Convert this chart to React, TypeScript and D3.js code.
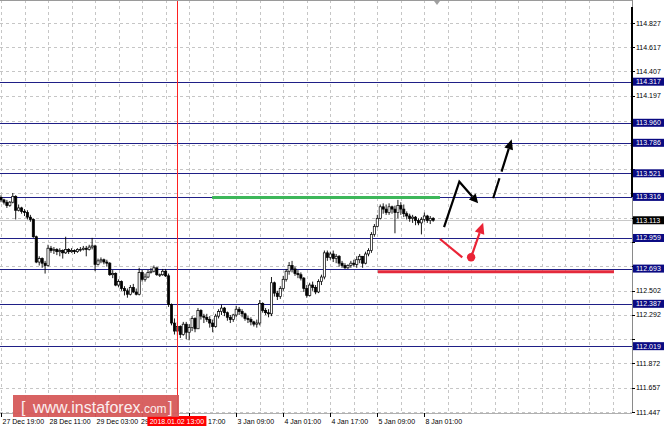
import React from 'react';
import * as d3 from 'd3';

const W = 664;
const H = 431;

// ---- candle data (H1 bars, open = previous close) ----
const firstOpen = 113.31;
const closes = [
  113.29, 113.27, 113.24, 113.27, 113.32, 113.20, 113.22, 113.19, 113.18, 113.14,
  113.12, 112.97, 112.75, 112.78, 112.74, 112.72, 112.87, 112.85, 112.86, 112.84,
  112.85, 112.83, 112.86, 112.84, 112.85, 112.84, 112.86, 112.86, 112.87, 112.86,
  112.88, 112.89, 112.73, 112.76, 112.77, 112.75, 112.74, 112.64, 112.65, 112.55,
  112.58, 112.52, 112.50, 112.47, 112.53, 112.49, 112.47, 112.66, 112.60, 112.62,
  112.66, 112.67, 112.70, 112.64, 112.64, 112.67, 112.63, 112.38, 112.22, 112.15,
  112.19, 112.12, 112.21, 112.14, 112.18, 112.26, 112.17, 112.33, 112.28, 112.27,
  112.25, 112.22, 112.19, 112.28, 112.32, 112.35, 112.31, 112.27, 112.25, 112.29,
  112.34, 112.32, 112.30, 112.26, 112.25, 112.23, 112.21, 112.22, 112.39, 112.33,
  112.31, 112.30, 112.57, 112.48, 112.45, 112.52, 112.60, 112.67, 112.72, 112.69,
  112.65, 112.64, 112.61, 112.52, 112.46, 112.55, 112.53, 112.49, 112.58, 112.62,
  112.83, 112.79, 112.82, 112.78, 112.80, 112.74, 112.72, 112.70, 112.72, 112.74,
  112.73, 112.77, 112.80, 112.74, 112.82, 112.85, 112.99, 113.06, 113.13, 113.23,
  113.21, 113.18, 113.23, 113.21, 113.18, 113.24, 113.21, 113.17, 113.15, 113.13,
  113.14, 113.11, 113.09, 113.12, 113.15, 113.11, 113.13, 113.113,
];
const highs = [
  113.33, 113.30, 113.29, 113.28, 113.35, 113.33, 113.25, 113.23, 113.21, 113.20,
  113.16, 113.13, 112.98, 112.80, 112.79, 112.76, 112.90, 112.89, 112.88, 112.87,
  112.87, 112.86, 112.97, 112.87, 112.87, 112.86, 112.87, 112.88, 112.89, 112.89,
  112.90, 112.96, 112.90, 112.78, 112.79, 112.78, 112.77, 112.75, 112.68, 112.66,
  112.60, 112.59, 112.54, 112.52, 112.55, 112.56, 112.52, 112.70, 112.68, 112.65,
  112.68, 112.70, 112.72, 112.65, 112.65, 112.69, 112.69, 112.65, 112.39, 112.26,
  112.23, 112.20, 112.23, 112.23, 112.21, 112.28, 112.27, 112.35, 112.34, 112.30,
  112.30, 112.28, 112.25, 112.30, 112.34, 112.38, 112.36, 112.32, 112.29, 112.30,
  112.37, 112.36, 112.34, 112.31, 112.28, 112.27, 112.24, 112.25, 112.42, 112.40,
  112.35, 112.34, 112.62, 112.58, 112.50, 112.54, 112.63, 112.69, 112.75, 112.76,
  112.71, 112.68, 112.66, 112.62, 112.55, 112.57, 112.58, 112.55, 112.60, 112.64,
  112.85, 112.85, 112.84, 112.85, 112.82, 112.81, 112.76, 112.74, 112.73, 112.76,
  112.77, 112.80, 112.82, 112.80, 112.84, 112.87, 113.01, 113.08, 113.16, 113.25,
  113.26, 113.25, 113.26, 113.24, 113.24, 113.29, 113.27, 113.25, 113.19, 113.17,
  113.16, 113.15, 113.13, 113.14, 113.18, 113.16, 113.15, 113.14,
];
const lows = [
  113.27, 113.25, 113.22, 113.23, 113.26, 113.12, 113.19, 113.17, 113.15, 113.12,
  113.10, 112.96, 112.74, 112.72, 112.70, 112.65, 112.71, 112.83, 112.82, 112.81,
  112.80, 112.78, 112.82, 112.82, 112.83, 112.82, 112.83, 112.84, 112.85, 112.80,
  112.85, 112.86, 112.67, 112.72, 112.74, 112.73, 112.71, 112.63, 112.61, 112.54,
  112.53, 112.50, 112.46, 112.44, 112.46, 112.48, 112.46, 112.46, 112.58, 112.58,
  112.61, 112.65, 112.66, 112.63, 112.62, 112.63, 112.62, 112.36, 112.20, 112.12,
  112.11, 112.09, 112.11, 112.08, 112.07, 112.15, 112.14, 112.17, 112.25, 112.22,
  112.23, 112.18, 112.14, 112.18, 112.26, 112.29, 112.28, 112.24, 112.22, 112.23,
  112.27, 112.29, 112.27, 112.24, 112.22, 112.20, 112.19, 112.18, 112.20, 112.31,
  112.29, 112.27, 112.28, 112.45, 112.42, 112.43, 112.50, 112.58, 112.64, 112.66,
  112.63, 112.61, 112.59, 112.49, 112.44, 112.45, 112.50, 112.47, 112.48, 112.55,
  112.60, 112.76, 112.77, 112.75, 112.74, 112.71, 112.70, 112.69, 112.69, 112.70,
  112.71, 112.70, 112.74, 112.70, 112.73, 112.80, 112.83, 112.97, 113.05, 113.12,
  113.17, 113.16, 113.16, 113.17, 113.00, 113.13, 113.16, 113.14, 113.12, 113.10,
  113.09, 113.07, 113.07, 112.99, 113.10, 113.09, 113.08, 113.10,
];

// ---- axes ----
// labels partly hidden by the crosshair date box show only their visible part
const timeLabels = [
  '27 Dec 19:00', '28 Dec 11:00', '29 Dec 03:00', '29', '17:00',
  '3 Jan 09:00', '4 Jan 01:00', '4 Jan 17:00', '5 Jan 09:00', '8 Jan 01:00',
];
const timeLabelShift = [0, 0, 0, -2.5, 17.5, 0, 0, 0, 0, 0];
const barsPerLabel = 16;
const barsPerGrid = 8;
const priceTicks = [
  111.447, 111.657, 111.872, 112.082, 112.292, 112.502, 112.712, 112.922, 113.137,
  113.347, 113.562, 113.767, 113.977, 114.197, 114.407, 114.617, 114.827,
];

// ---- levels & annotations ----
const levels = [114.317, 113.960, 113.786, 113.521, 113.316, 112.959, 112.693, 112.387, 112.019];
const currentPrice = 113.113;
const crosshairIndex = 60;
const crosshairLabel = '2018.01.02 13:00';
const resistance = { price: 113.31, from: 71.8, to: 149.3 };
const support = { price: 112.665, from: 128.2, to: 208.5 };
const blackArrow: [number, number][] = [[150.7, 113.054], [155.9, 113.448], [162.3, 113.26]];
const dashedArrow: [number, number][] = [[167.4, 113.304], [173.7, 113.816]];
const redStroke: [number, number][] = [[149.3, 112.95], [156.9, 112.791]];
const redDot: [number, number] = [159.9, 112.791];
const redArrow: [number, number][] = [[159.9, 112.791], [164.0, 113.092]];

const FONT = "'Liberation Sans', Arial, sans-serif";

export default function App() {
  const x = d3.scaleLinear().domain([0, 208]).range([1, 612.52]);
  const y = d3.scaleLinear().domain([111.447, 114.827]).range([412, 23]);
  const plotRight = 632;
  const plotBottom = 413;
  const opens = [firstOpen, ...closes.slice(0, -1)];

  const gridIdx = d3.range(0, 209, barsPerGrid);
  const line = d3.line<[number, number]>().x((d) => d[0]).y((d) => d[1]);

  const boxedPrices = [...levels, currentPrice];
  const visibleTicks = priceTicks.filter(
    (p) => !boxedPrices.some((b) => Math.abs(y(b) - y(p)) < 8.5)
  );

  const arrowEls = (
    pts: [number, number][],
    color: string,
    width: number,
    headLen: number,
    headW: number,
    dash?: string,
    key?: string
  ) => {
    const px = pts.map((p) => [x(p[0]), y(p[1])] as [number, number]);
    const tip = px[px.length - 1];
    const prev = px[px.length - 2];
    const dx = tip[0] - prev[0];
    const dy = tip[1] - prev[1];
    const len = Math.hypot(dx, dy);
    const ux = dx / len;
    const uy = dy / len;
    const base: [number, number] = [tip[0] - ux * headLen, tip[1] - uy * headLen];
    const shaft = [...px.slice(0, -1), base];
    const nx = -uy;
    const ny = ux;
    const head = [
      tip,
      [base[0] + nx * headW, base[1] + ny * headW],
      [base[0] - nx * headW, base[1] - ny * headW],
    ];
    return (
      <g key={key}>
        <path d={line(shaft) || ''} fill="none" stroke={color} strokeWidth={width} strokeDasharray={dash} strokeLinejoin="miter" />
        <polygon points={head.map((p) => p.join(',')).join(' ')} fill={color} />
      </g>
    );
  };

  return (
    <div style={{ position: 'absolute', left: 0, top: 0 }}>
      <svg width={W} height={H} style={{ display: 'block', background: '#fff' }}>
        {/* grid */}
        {priceTicks.map((p) => (
          <line key={'hg' + p} x1={0} x2={plotRight} y1={Math.round(y(p)) + 0.5} y2={Math.round(y(p)) + 0.5}
            stroke="#c6c6c6" strokeDasharray="3 3" />
        ))}
        {gridIdx.map((i) => (
          <line key={'vg' + i} x1={Math.round(x(i)) + 0.5} x2={Math.round(x(i)) + 0.5} y1={0} y2={plotBottom}
            stroke="#c6c6c6" strokeDasharray="3 3" />
        ))}

        {/* level lines */}
        {levels.map((p) => (
          <line key={'lv' + p} x1={0} x2={plotRight} y1={Math.round(y(p)) + 0.5} y2={Math.round(y(p)) + 0.5}
            stroke="#1f1f86" strokeWidth={1.1} />
        ))}
        <line x1={0} x2={plotRight} y1={Math.round(y(currentPrice)) + 0.5} y2={Math.round(y(currentPrice)) + 0.5}
          stroke="#c8c8c8" />

        {/* candles */}
        {closes.map((c, i) => {
          const o = opens[i];
          const h = Math.max(highs[i], o, c);
          const l = Math.min(lows[i], o, c);
          const cx = x(i);
          const top = y(Math.max(o, c));
          const bot = y(Math.min(o, c));
          const bull = c >= o;
          return (
            <g key={'c' + i}>
              <line x1={cx} x2={cx} y1={y(h)} y2={y(l)} stroke="#000" strokeWidth={0.9} />
              <rect x={cx - 1.1} y={top} width={2.2} height={Math.max(bot - top, 0.8)}
                fill={bull ? '#fff' : '#000'} stroke="#000" strokeWidth={0.7} />
            </g>
          );
        })}

        {/* drawn support / resistance */}
        <line x1={x(resistance.from)} x2={x(resistance.to)} y1={y(resistance.price)} y2={y(resistance.price)}
          stroke="#3db75a" strokeWidth={3} />
        <line x1={x(support.from)} x2={x(support.to)} y1={y(support.price)} y2={y(support.price)}
          stroke="#e42a3c" strokeWidth={3} />

        {/* arrows */}
        {arrowEls(blackArrow, '#000', 2.2, 9, 4.5, undefined, 'a1')}
        {arrowEls(dashedArrow, '#000', 2.2, 10, 4.5, '21 7 200', 'a2')}
        <path d={line(redStroke.map((p) => [x(p[0]), y(p[1])] as [number, number])) || ''} stroke="#ea2436" strokeWidth={2.2} fill="none" />
        {arrowEls(redArrow, '#ea2436', 2.2, 11, 5, undefined, 'a3')}
        <circle cx={x(redDot[0])} cy={y(redDot[1])} r={4.2} fill="#ea2436" />

        {/* crosshair */}
        <line x1={Math.round(x(crosshairIndex)) + 0.5} x2={Math.round(x(crosshairIndex)) + 0.5} y1={0} y2={plotBottom}
          stroke="#ff2020" strokeWidth={1} />

        {/* frame */}
        <line x1={0} x2={plotRight} y1={0.5} y2={0.5} stroke="#9a9a9a" />
        <line x1={plotRight + 0.5} x2={plotRight + 0.5} y1={0} y2={plotBottom} stroke="#8a8a8a" />
        <line x1={plotRight} x2={plotRight} y1={7} y2={197} stroke="#000" strokeWidth={2} />
        <line x1={0} x2={plotRight} y1={plotBottom + 0.5} y2={plotBottom + 0.5} stroke="#b0b0b0" />
        <polygon points={`${x(148.3) - 3},1 ${x(148.3) + 3},1 ${x(148.3)},5`} fill="#a0a0a0" />

        {/* price axis */}
        {priceTicks.map((p) => (
          <line key={'pk' + p} x1={plotRight} x2={plotRight + 3} y1={Math.round(y(p)) + 0.5} y2={Math.round(y(p)) + 0.5} stroke="#000" />
        ))}
        {visibleTicks.map((p) => (
          <text key={'pt' + p} x={636} y={y(p) + 2.5} fontSize={7} fontFamily={FONT} fill="#000">{p.toFixed(3)}</text>
        ))}
        {levels.map((p) => (
          <g key={'lb' + p}>
            <rect x={633} y={y(p) - 4} width={31} height={8} fill="#0a0a82" />
            <text x={636} y={y(p) + 2.5} fontSize={7} fontFamily={FONT} fill="#fff">{p.toFixed(3)}</text>
          </g>
        ))}
        <rect x={633} y={y(currentPrice) - 4} width={31} height={8} fill="#000" />
        <text x={636} y={y(currentPrice) + 2.5} fontSize={7} fontFamily={FONT} fill="#fff">{currentPrice.toFixed(3)}</text>

        {/* time axis */}
        {timeLabels.map((t, k) => {
          const tx = Math.round(x(k * barsPerLabel)) + 0.5;
          return (
            <g key={'tl' + k}>
              <line x1={tx} x2={tx} y1={plotBottom} y2={plotBottom + 4} stroke="#000" />
              <text x={tx + 1 + timeLabelShift[k]} y={424} fontSize={7} fontFamily={FONT} fill="#000">{t}</text>
            </g>
          );
        })}
        <rect x={x(crosshairIndex) - 30} y={416} width={59} height={10} fill="#ff0000" />
        <text x={x(crosshairIndex) - 0.5} y={424} fontSize={7} fontFamily={FONT} fill="#fff" textAnchor="middle">
          {crosshairLabel}
        </text>

        {/* logo */}
        <rect x={13} y={395} width={166} height={22} fill="#d65a5a" opacity={0.95} />
        <text x={21} y={413} fontSize={16} fontFamily={FONT} fill="#fbeeee">[</text>
        <text x={33} y={413} fontSize={16} fontFamily={FONT} fill="#fbeeee">
          www.instaforex<tspan fontSize={12}>.com</tspan>
        </text>
        <text x={168} y={413} fontSize={16} fontFamily={FONT} fill="#fbeeee">]</text>
      </svg>
    </div>
  );
}
